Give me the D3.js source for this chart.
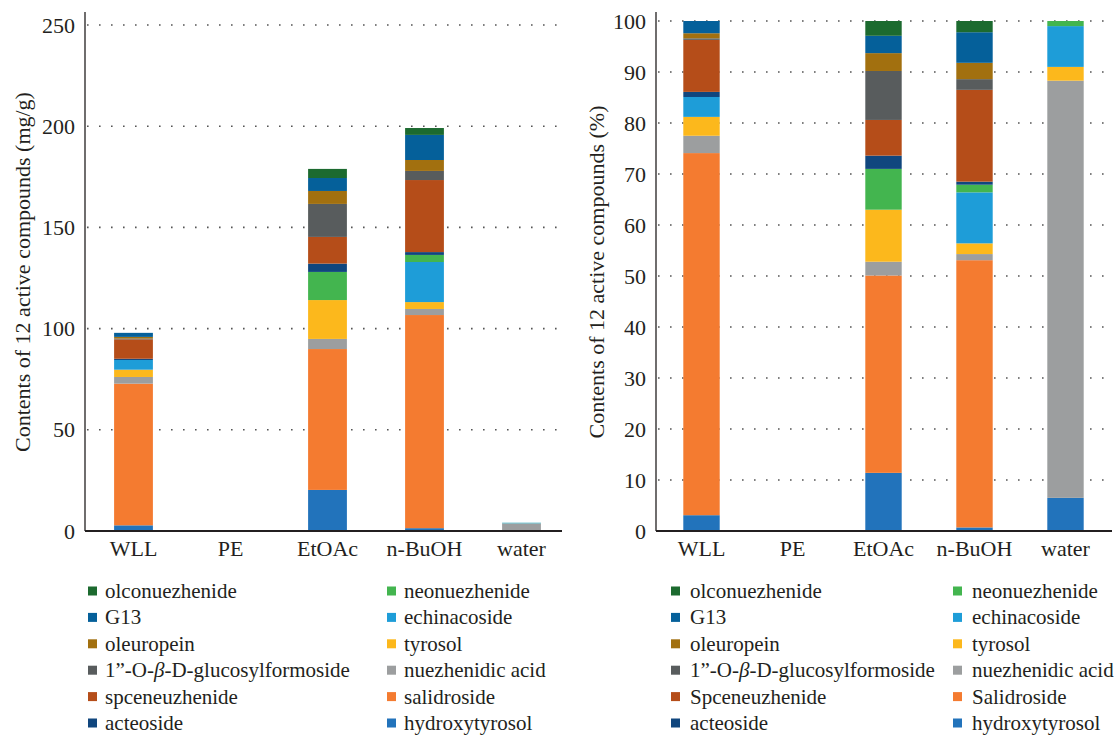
<!DOCTYPE html>
<html><head><meta charset="utf-8">
<script src="https://cdn.jsdelivr.net/npm/d3@7"></script>
<style>body{margin:0;background:#fff}svg{display:block}</style>
</head><body>
<svg id="chart" width="1118" height="735"></svg>
<script>
const categories = ["WLL", "PE", "EtOAc", "n-BuOH", "water"];
// stack order bottom -> top
const compounds = ["hydroxytyrosol", "salidroside", "nuezhenidic acid", "tyrosol", "echinacoside", "neonuezhenide",
  "acteoside", "spceneuzhenide", "glucosylformoside", "oleuropein", "G13", "olconuezhenide"];
const colors = ["#2273bb", "#f47b30", "#9c9e9f", "#fcb81c", "#1e9dd8", "#43b54f",
  "#10467e", "#b54d19", "#585c5d", "#a2700f", "#05609a", "#1c6a2f"];

// contents (mg/g) per category [WLL, PE, EtOAc, n-BuOH, water]
const hydroxytyrosolMg = [2.8, 0, 20.3, 1.4, 0.27];
const salidrosideMg = [70.0, 0, 69.6, 105.3, 0];
const nuezhenidicAcidMg = [3.3, 0, 5.0, 3.0, 3.35];
const tyrosolMg = [3.6, 0, 19.2, 3.4, 0.11];
const echinacosideMg = [4.8, 0, 0, 19.8, 0.33];
const neonuezhenideMg = [0, 0, 13.9, 3.5, 0.04];
const acteosideMg = [0.6, 0, 4.1, 1.4, 0];
const spceneuzhenideMg = [9.6, 0, 13.2, 35.6, 0];
const glucosylformosideMg = [0.4, 0, 16.3, 4.5, 0];
const oleuropeinMg = [0.8, 0, 6.4, 5.4, 0];
const g13Mg = [2.0, 0, 6.4, 12.4, 0];
const olconuezhenideMg = [0, 0, 4.5, 3.4, 0];

// contents (%) per category
const hydroxytyrosolPct = [3.1, 0, 11.4, 0.7, 6.5];
const salidrosidePct = [71.0, 0, 38.7, 52.4, 0];
const nuezhenidicAcidPct = [3.4, 0, 2.7, 1.2, 81.8];
const tyrosolPct = [3.7, 0, 10.2, 2.1, 2.7];
const echinacosidePct = [3.9, 0, 0, 10.0, 8.0];
const neonuezhenidePct = [0, 0, 8.0, 1.5, 1.0];
const acteosidePct = [1.0, 0, 2.6, 0.6, 0];
const spceneuzhenidePct = [10.2, 0, 7.0, 18.0, 0];
const glucosylformosidePct = [0.3, 0, 9.6, 2.1, 0];
const oleuropeinPct = [1.0, 0, 3.5, 3.2, 0];
const g13Pct = [2.4, 0, 3.4, 6.0, 0];
const olconuezhenidePct = [0, 0, 2.9, 2.2, 0];

const mgTicks = [0, 50, 100, 150, 200, 250];
const pctTicks = [0, 10, 20, 30, 40, 50, 60, 70, 80, 90, 100];

// legend rows: [left column, right column] as compound keys
const legendRows = [["olconuezhenide", "neonuezhenide"], ["G13", "echinacoside"], ["oleuropein", "tyrosol"],
  ["glucosylformoside", "nuezhenidic acid"], ["spceneuzhenide", "salidroside"], ["acteoside", "hydroxytyrosol"]];
const legendLabelsLeft = {"spceneuzhenide": "spceneuzhenide", "salidroside": "salidroside"};
const legendLabelsRight = {"spceneuzhenide": "Spceneuzhenide", "salidroside": "Salidroside"};

const mgSeries = [hydroxytyrosolMg, salidrosideMg, nuezhenidicAcidMg, tyrosolMg, echinacosideMg, neonuezhenideMg,
  acteosideMg, spceneuzhenideMg, glucosylformosideMg, oleuropeinMg, g13Mg, olconuezhenideMg];
const pctSeries = [hydroxytyrosolPct, salidrosidePct, nuezhenidicAcidPct, tyrosolPct, echinacosidePct, neonuezhenidePct,
  acteosidePct, spceneuzhenidePct, glucosylformosidePct, oleuropeinPct, g13Pct, olconuezhenidePct];

const color = d3.scaleOrdinal(compounds, colors);
const svg = d3.select("#chart");
const FONT = '"Liberation Serif"';
const FS = 22;
const LFS = 21;
const INK = "#231f20";

function styleText(sel, size) {
  return sel.attr("font-family", null).style("font-family", FONT).style("font-size", size + "px").style("fill", INK);
}

function buildTable(series) {
  return categories.map((c, i) => {
    const row = {cat: c};
    compounds.forEach((k, j) => row[k] = series[j][i]);
    return row;
  });
}

function drawChart(opt) {
  const g = svg.append("g");
  const x = d3.scaleBand(categories, [opt.x0, opt.x1]).paddingInner(0.6).paddingOuter(0.3);
  const y = d3.scaleLinear(opt.domain, [531, opt.yTop]);
  // grid
  g.append("g").selectAll("line").data(opt.ticks.filter(t => t > 0)).join("line")
    .attr("x1", opt.x0 + 2).attr("x2", opt.gridEnd)
    .attr("y1", d => y(d)).attr("y2", d => y(d))
    .attr("stroke", "#555").attr("stroke-width", 1.6).attr("stroke-dasharray", "1.6,10.4");
  // bars
  const stacked = d3.stack().keys(compounds)(buildTable(opt.series));
  g.append("g").selectAll("g").data(stacked).join("g").attr("fill", d => color(d.key))
    .selectAll("rect").data(d => d).join("rect")
    .attr("x", d => x(d.data.cat)).attr("width", x.bandwidth())
    .attr("y", d => y(d[1])).attr("height", d => Math.max(0, y(d[0]) - y(d[1])));
  // y axis
  const ya = g.append("g").attr("transform", `translate(${opt.x0},0)`)
    .call(d3.axisLeft(y).tickValues(opt.ticks).tickSize(0).tickPadding(10));
  ya.attr("font-family", null).attr("font-size", null);
  ya.select(".domain").attr("stroke", INK).attr("stroke-width", 1.3)
    .attr("d", `M0,${opt.axisTop}V531`);
  styleText(ya.selectAll("text"), FS);
  // x axis
  const xa = g.append("g").attr("transform", "translate(0,531)")
    .call(d3.axisBottom(x).tickSize(0).tickPadding(9));
  xa.attr("font-family", null).attr("font-size", null);
  xa.select(".domain").attr("stroke", INK).attr("stroke-width", 2.2)
    .attr("d", `M${opt.x0},0H${opt.axisEnd}`);
  styleText(xa.selectAll("text"), FS);
  // title
  styleText(g.append("text").attr("transform", `translate(${opt.titleX},272) rotate(-90)`)
    .attr("text-anchor", "middle").attr("dominant-baseline", "central"), FS).text(opt.title);
  // legend
  legendRows.forEach((row, r) => {
    row.forEach((key, c) => {
      const lx = c === 0 ? opt.legX0 : opt.legX1;
      const ly = 591 + r * 26.4;
      g.append("rect").attr("x", lx).attr("y", ly - 4.5).attr("width", 9).attr("height", 9).attr("fill", color(key));
      const t = styleText(g.append("text").attr("x", lx + opt.legGap).attr("y", ly).attr("dominant-baseline", "central"), LFS);
      if (key === "glucosylformoside") {
        t.append("tspan").text("1”-O-");
        t.append("tspan").style("font-style", "italic").text("β");
        t.append("tspan").text("-D-glucosylformoside");
      } else {
        t.text(opt.labels[key] || key);
      }
    });
  });
}

drawChart({x0: 85, x1: 570, axisEnd: 562, gridEnd: 560, domain: [0, 250], yTop: 25, axisTop: 12,
  ticks: mgTicks, series: mgSeries, title: "Contents of 12 active compounds (mg/g)", titleX: 22,
  legX0: 88, legX1: 387, legGap: 17, labels: legendLabelsLeft});
drawChart({x0: 656, x1: 1111, axisEnd: 1112, gridEnd: 1110, domain: [0, 100], yTop: 21, axisTop: 12,
  ticks: pctTicks, series: pctSeries, title: "Contents of 12 active compounds (%)", titleX: 596,
  legX0: 671, legX1: 953, legGap: 19, labels: legendLabelsRight});
</script>
</body></html>
